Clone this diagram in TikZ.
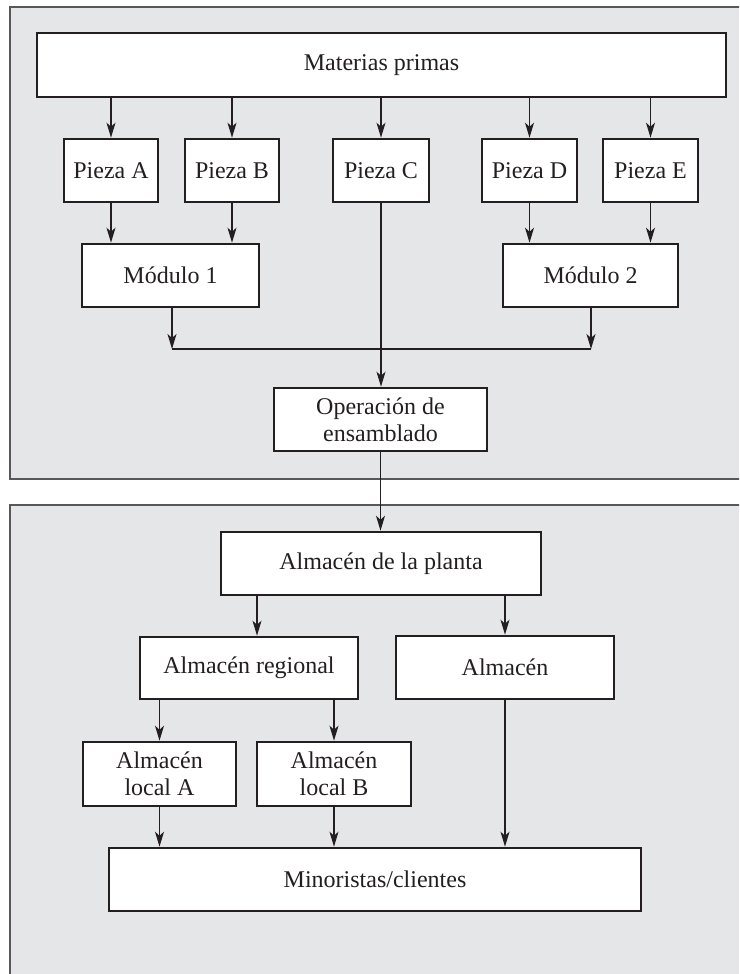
\documentclass[tikz,border=0pt]{standalone}
\usepackage{fontspec}
\setmainfont{Liberation Serif}
\usetikzlibrary{arrows.meta,calc}
\definecolor{panelgray}{HTML}{E5E6E8}
\definecolor{boxline}{HTML}{231F20}
\definecolor{panelline}{HTML}{58585A}
\begin{document}
\begin{tikzpicture}[x=1pt,y=-1pt,
  box/.style={draw=boxline,line width=2.6pt,fill=white,align=center,inner sep=0pt,
    font=\fontsize{24}{27}\selectfont,text=boxline},
  arr/.style={draw=boxline,line width=1.3pt,-{Stealth[length=15pt,width=9pt,inset=4pt]}},
  ln/.style={draw=boxline,line width=1.3pt},
  pline/.style={draw=panelline,line width=1.4pt}]
\useasboundingbox (0,0) rectangle (739,974);
\clip (0,0) rectangle (739,974);
% panels
\fill[panelgray] (10,7) rectangle (760,479);
\draw[pline] (760,7) -- (10,7) -- (10,479) -- (760,479);
\fill[panelgray] (10,505) rectangle (760,990);
\draw[pline] (760,505) -- (10,505) -- (10,990);
% top nodes
\node[box,minimum width=689pt,minimum height=64pt] (mp) at (381.5,65) {Materias primas};
\node[box,minimum width=94pt,minimum height=63pt] (pa) at (111,170.5) {Pieza A};
\node[box,minimum width=94pt,minimum height=63pt] (pb) at (232,170.5) {Pieza B};
\node[box,minimum width=96pt,minimum height=63pt] (pc) at (381,170.5) {Pieza C};
\node[box,minimum width=95pt,minimum height=63pt] (pd) at (529.5,170.5) {Pieza D};
\node[box,minimum width=95pt,minimum height=63pt] (pe) at (650.5,170.5) {Pieza E};
\node[box,minimum width=177pt,minimum height=63pt] (m1) at (170.5,275.5) {Módulo 1};
\node[box,minimum width=175pt,minimum height=63pt] (m2) at (590.5,275.5) {Módulo 2};
\node[box,minimum width=213pt,minimum height=63pt] (op) at (380.5,419.5) {Operación de\\ensamblado};
\coordinate (j1) at (172,349);
\coordinate (j2) at (591,349);
% bottom nodes
\node[box,minimum width=320pt,minimum height=63pt] (pl) at (381,563.5) {Almacén de la planta};
\node[box,minimum width=218pt,minimum height=62pt] (reg) at (249,668) {Almacén regional};
\node[box,minimum width=218pt,minimum height=63pt] (alm) at (505,667.5) {Almacén};
\node[box,minimum width=153pt,minimum height=64pt] (la) at (159.5,774) {Almacén\\local A};
\node[box,minimum width=154pt,minimum height=64pt] (lb) at (334,774) {Almacén\\local B};
\node[box,minimum width=532pt,minimum height=63pt] (mn) at (375,879.5) {Minoristas/clientes};
\coordinate (x1) at (257,0);
% top connectors
\foreach \p in {pa,pb,pc,pd,pe}{\draw[arr] (\p.north |- mp.south) -- (\p.north);}
\draw[arr] (pa.south) -- (pa.south |- m1.north);
\draw[arr] (pb.south) -- (pb.south |- m1.north);
\draw[arr] (pd.south) -- (pd.south |- m2.north);
\draw[arr] (pe.south) -- (pe.south |- m2.north);
\draw[arr] (m1.south -| j1) -- (j1);
\draw[arr] (m2.south -| j2) -- (j2);
\draw[ln] (j1) -- (j2);
\draw[arr] (pc.south) -- (pc.south |- op.north);
\draw[arr] (op.south) -- (op.south |- pl.north);
% bottom connectors
\draw[arr] (pl.south -| x1) -- (reg.north -| x1);
\draw[arr] (alm.north |- pl.south) -- (alm.north);
\draw[arr] (la.north |- reg.south) -- (la.north);
\draw[arr] (lb.north |- reg.south) -- (lb.north);
\draw[arr] (la.south) -- (la.south |- mn.north);
\draw[arr] (lb.south) -- (lb.south |- mn.north);
\draw[arr] (alm.south) -- (alm.south |- mn.north);
\end{tikzpicture}
\end{document}
